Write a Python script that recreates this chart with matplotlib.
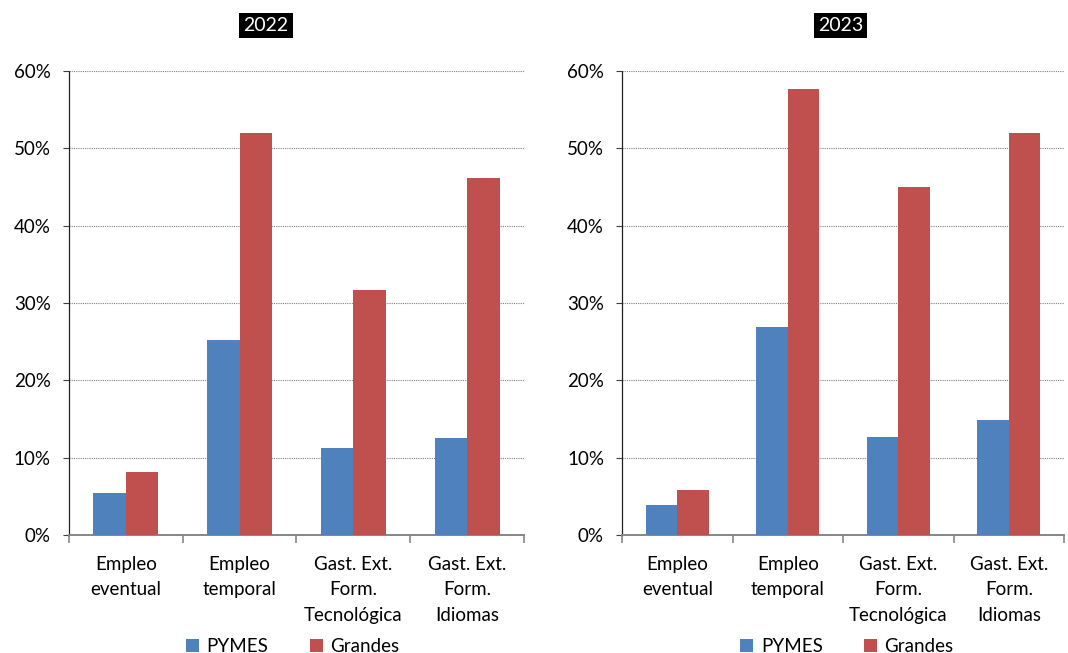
import numpy as np
import matplotlib
matplotlib.use("Agg")
import matplotlib.pyplot as plt
from matplotlib.ticker import PercentFormatter, MultipleLocator, FixedLocator

plt.rcParams['font.family'] = ['Lato', 'DejaVu Sans']

# data
categories = ["Empleo\neventual", "Empleo\ntemporal",
              "Gast. Ext.\nForm.\nTecnológica", "Gast. Ext.\nForm.\nIdiomas"]
years = ["2022", "2023"]
pymes_2022 = [5.4, 25.2, 11.2, 12.5]
grandes_2022 = [8.1, 52.0, 31.7, 46.2]
pymes_2023 = [3.9, 26.9, 12.7, 14.9]
grandes_2023 = [5.8, 57.7, 45.0, 52.0]

series = [(pymes_2022, grandes_2022), (pymes_2023, grandes_2023)]

BLUE = "#4F81BD"
RED = "#C0504D"

fig = plt.figure(figsize=(10.68, 6.53), dpi=100)
axes_pos = [[0.0646, 0.1807, 0.4260, 0.7106],
            [0.5824, 0.1807, 0.4139, 0.7106]]
title_x = [0.249, 0.787]
legend_x = [0.274, 0.793]

x = np.arange(len(categories))
w = 0.285

for ii, (pos, (pymes, grandes)) in enumerate(zip(axes_pos, series)):
    ax = fig.add_axes(pos)
    b1 = ax.bar(x - w / 2, pymes, w, color=BLUE, label="PYMES", zorder=3)
    b2 = ax.bar(x + w / 2, grandes, w, color=RED, label="Grandes", zorder=3)

    ax.set_xlim(-0.5, len(categories) - 0.5)
    ax.set_ylim(0, 60)
    ax.yaxis.set_major_locator(MultipleLocator(10))
    ax.yaxis.set_major_formatter(PercentFormatter(decimals=0))
    ax.grid(axis="y", color="#808080", linestyle=(0, (1, 1)), linewidth=0.8, zorder=0)

    ax.set_xticks(x)
    ax.set_xticklabels(categories, fontsize=13.5, linespacing=1.6)
    ax.xaxis.set_minor_locator(FixedLocator(np.arange(-0.5, len(categories), 1.0)))
    ax.tick_params(axis="x", which="major", length=0, pad=15)
    ax.tick_params(axis="x", which="minor", length=6, width=1.2, color="#868686", direction="out")
    ax.tick_params(axis="y", length=4, width=0.8, color="#404040", pad=9, labelsize=13.5)

    for s in ["top", "right"]:
        ax.spines[s].set_visible(False)
    ax.spines["left"].set_linestyle((0, (1, 1)))
    ax.spines["left"].set_color("#202020")
    ax.spines["left"].set_linewidth(0.9)
    ax.spines["bottom"].set_color("#868686")
    ax.spines["bottom"].set_linewidth(1.4)

    fig.text(title_x[ii], 0.961, years[ii], ha="center", va="center", fontsize=14,
             color="white", bbox=dict(facecolor="black", edgecolor="none", pad=3))

    fig.legend(handles=[b1, b2], loc="center", bbox_to_anchor=(legend_x[ii], 0.01),
               ncol=2, frameon=False, fontsize=13.5, handlelength=0.7, handleheight=0.7,
               columnspacing=2.2, handletextpad=0.4)

fig.savefig("out.png", dpi=100)
